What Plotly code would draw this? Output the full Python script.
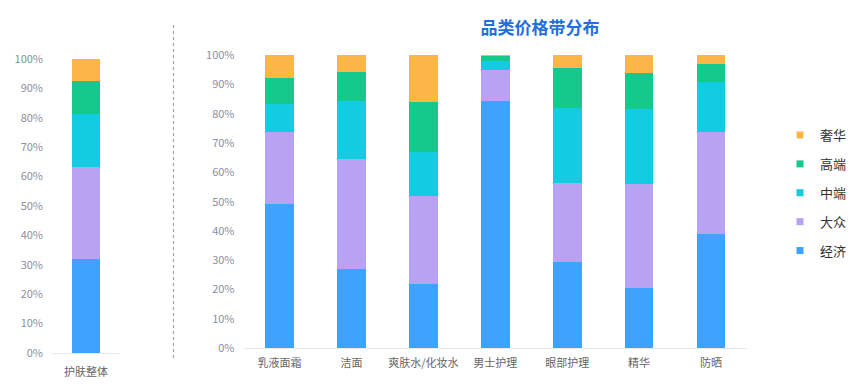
import plotly.graph_objects as go

# page body has an 8px default margin; lay out in reference pixels, then shift
PAD = 8
W, H = 865 - PAD, 389 - PAD

categories_all = ["护肤整体"]
categories = ["乳液面霜", "洁面", "爽肤水/化妆水", "男士护理", "眼部护理", "精华", "防晒"]
series_names = ["经济", "大众", "中端", "高端", "奢华"]

# share of each price band (%), overall skincare
overall = {
    "经济": [32.0],
    "大众": [31.2],
    "中端": [18.1],
    "高端": [11.1],
    "奢华": [7.6],
}
# share of each price band (%), per category
econ = [49.2, 26.9, 21.8, 84.4, 29.5, 20.7, 38.9]
mass = [24.4, 37.7, 30.1, 10.5, 26.8, 35.2, 34.7]
mid = [9.6, 19.8, 15.0, 3.2, 25.5, 25.7, 17.1]
high = [9.0, 9.9, 17.2, 1.6, 13.9, 12.2, 6.1]
lux = [7.8, 5.7, 15.9, 0.3, 4.3, 6.2, 3.2]
by_cat = {"经济": econ, "大众": mass, "中端": mid, "高端": high, "奢华": lux}

colors = {
    "经济": "#40a2ff",
    "大众": "#b8a3f2",
    "中端": "#12cde2",
    "高端": "#14c98b",
    "奢华": "#fdb54a",
}


def px(x):  # reference x pixel -> paper fraction
    return (x - PAD) / W


def py(y):  # reference y pixel (from top) -> paper fraction
    return 1 - (y - PAD) / H


FONT = "Noto Sans CJK SC"
fig = go.Figure()

for name in series_names:
    fig.add_trace(go.Bar(
        x=categories_all, y=[v / 100 for v in overall[name]],
        marker=dict(color=colors[name], line=dict(width=0)),
        xaxis="x", yaxis="y", showlegend=False, width=0.4, name=name,
    ))
    fig.add_trace(go.Bar(
        x=categories, y=[v / 100 for v in by_cat[name]],
        marker=dict(color=colors[name], line=dict(width=0)),
        xaxis="x2", yaxis="y2", showlegend=False, width=0.4, name=name,
    ))

# legend entries (small square markers), top band first
for name in reversed(series_names):
    fig.add_trace(go.Scatter(
        x=[None], y=[None], mode="markers", name=name, legendgroup=name,
        marker=dict(symbol="square", size=7, color=colors[name]),
        xaxis="x2", yaxis="y2", showlegend=True,
    ))

ytick_font = dict(family=FONT, size=11, color="#8a90a0")
xtick_font = dict(family=FONT, size=11, color="#666666")


def yax(domain, anchor):
    return dict(domain=domain, anchor=anchor, range=[0, 1.0], tickformat=".0%",
                dtick=0.1, tick0=0, showgrid=False, zeroline=False, showline=False,
                ticks="", tickfont=ytick_font, ticklabelstandoff=8,
                automargin=False, fixedrange=True)


def xax(domain, anchor, standoff):
    return dict(domain=domain, anchor=anchor, showgrid=False, zeroline=False,
                showline=True, linecolor="#e6e8ee", linewidth=1, ticks="",
                tickfont=xtick_font, ticklabelstandoff=standoff,
                automargin=False, fixedrange=True)


fig.update_layout(
    width=W, height=H,
    margin=dict(l=0, r=0, t=0, b=0, autoexpand=False),
    paper_bgcolor="white", plot_bgcolor="white",
    barmode="stack", bargap=0.6,
    font=dict(family=FONT),
    xaxis=xax([px(52), px(120)], "y", 9),
    yaxis=yax([py(353), py(59)], "x"),
    xaxis2=xax([px(243.5), px(747)], "y2", 4),
    yaxis2=yax([py(348.3), py(55)], "x2"),
    title=dict(text="<b>品类价格带分布</b>", x=px(540), xanchor="center",
               y=py(28), yanchor="middle", automargin=False,
               font=dict(family=FONT, size=17, color="#1f6fde")),
    legend=dict(traceorder="grouped", x=px(780), xanchor="left",
                y=py(120), yanchor="top", tracegroupgap=9,
                font=dict(family=FONT, size=13, color="#333333"),
                bgcolor="rgba(0,0,0,0)"),
    shapes=[dict(type="line", xref="paper", yref="paper",
                 x0=px(173.5), x1=px(173.5), y0=py(25), y1=py(358),
                 line=dict(color="#9a9a9a", width=1, dash="dot"))],
)

fig.write_html("out.html")
